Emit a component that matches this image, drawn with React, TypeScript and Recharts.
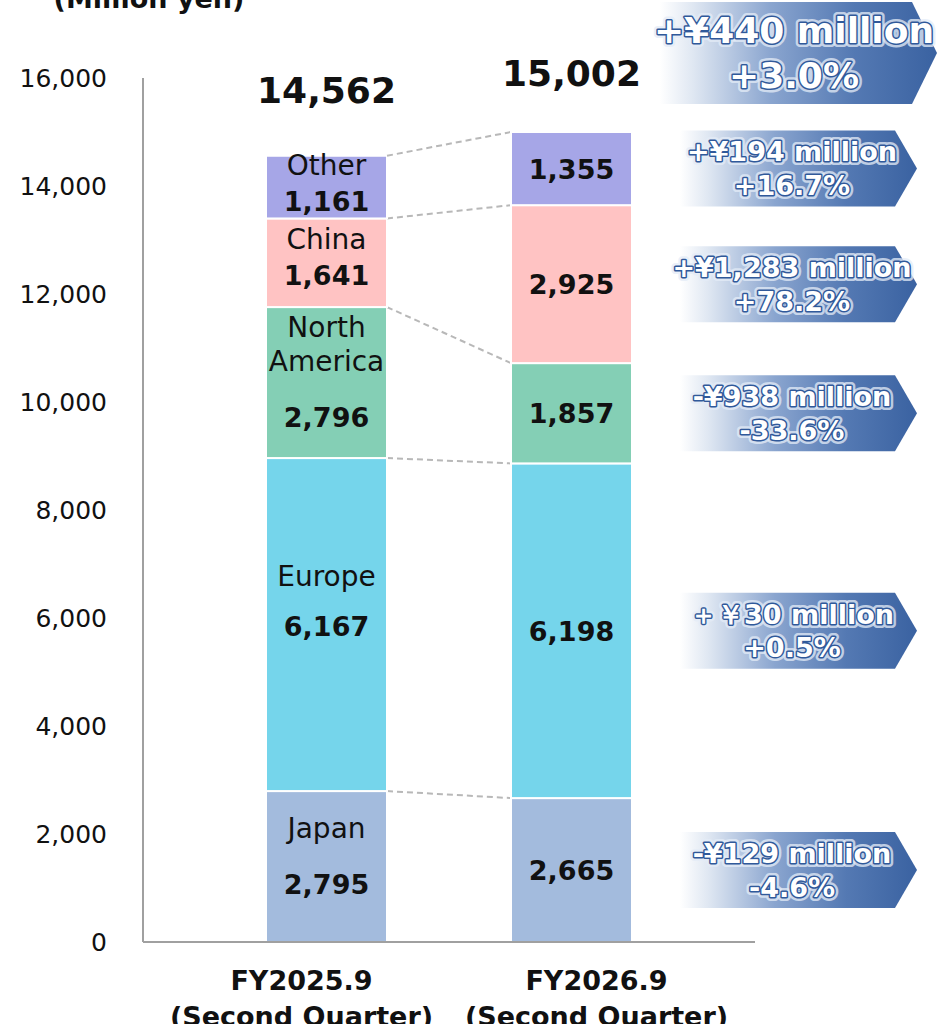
import { BarChart, Bar, XAxis, YAxis, LabelList } from "recharts";

const categories = ["FY2025.9", "FY2026.9"];
const periodNote = "(Second Quarter)";
const regions = ["Japan", "Europe", "North America", "China", "Other"];
const japan = [2795, 2665];
const europe = [6167, 6198];
const northAmerica = [2796, 1857];
const china = [1641, 2925];
const other = [1161, 1355];
const totals = ["14,562", "15,002"];
const changeAmounts = ["-¥129 million", "＋￥30 million", "-¥938 million", "+¥1,283 million", "+¥194 million"];
const changeRates = ["-4.6%", "+0.5%", "-33.6%", "+78.2%", "+16.7%"];
const totalChange = "+¥440 million";
const totalRate = "+3.0%";
const yTicks = [0, 2000, 4000, 6000, 8000, 10000, 12000, 14000, 16000];

const seriesValues = [japan, europe, northAmerica, china, other];
const colors = ["#a3bbdd", "#75d5eb", "#84cfb5", "#ffc3c3", "#a6a6e7"];

const data = categories.map((name, i) => {
  const row: any = { name };
  regions.forEach((r, s) => (row[r] = seriesValues[s][i]));
  return row;
});

const FONT = "'DejaVu Sans', Verdana, sans-serif";
const W = 937;
const H = 1024;
const margin = { top: 78, right: 182, left: 0, bottom: 0 };
const yAxisWidth = 143;
const xPad = 61;
const barSize = 121;
const bandWidth = (W - margin.left - margin.right - yAxisWidth - 2 * xPad) / categories.length;

const cumTop = (s: number, i: number) =>
  seriesValues.slice(0, s + 1).reduce((a, v) => a + v[i], 0);

// arrow-shaped change box with a white-to-blue gradient
const ChangeBox = ({ x, cy, w, h, tip, size, lines, tx }: any) => {
  const top = cy - h / 2;
  const bottom = cy + h / 2;
  const d = `M${x},${top} L${x + w},${top} L${x + w + tip},${cy} L${x + w},${bottom} L${x},${bottom} Z`;
  const lineGap = size * 1.25;
  return (
    <g>
      <path d={d} fill="url(#boxGrad)" />
      {lines.map((t: string, k: number) => {
        const by = cy - lineGap / 2 + k * lineGap + size * 0.36;
        return (
          <g key={k}>
            <text x={tx} y={by} textAnchor="middle" fontFamily={FONT} fontWeight="bold" fontSize={size}
              fill="none" stroke="#e4ecf7" strokeOpacity={0.75} strokeWidth={8} strokeLinejoin="round">{t}</text>
            <text x={tx} y={by} textAnchor="middle" fontFamily={FONT} fontWeight="bold" fontSize={size}
              fill="#ffffff" stroke="#30599a" strokeWidth={3} strokeLinejoin="round" paintOrder="stroke">{t}</text>
          </g>
        );
      })}
    </g>
  );
};

const Segment = (s: number) => (props: any) => {
  const { x, y, width, height, index } = props;
  const line = [];
  if (index === 0 && height > 0) {
    const per = height / seriesValues[s][0];
    const y2 = y + (cumTop(s, 0) - cumTop(s, 1)) * per;
    line.push(
      <line key="c" x1={x + width} y1={y} x2={x + bandWidth} y2={y2}
        stroke="#b8b8b8" strokeWidth={2} strokeDasharray="6 4" />
    );
  }
  return (
    <g>
      <rect x={x} y={y} width={width} height={height} fill={colors[s]} stroke="#ffffff" strokeWidth={2} />
      {line}
    </g>
  );
};

const segmentLabel = (s: number) => (props: any) => {
  const { x, y, width, height, index, value } = props;
  const cx = x + width / 2;
  const cy = y + height / 2;
  const valText = Number(value).toLocaleString("en-US");
  if (index === 0) {
    const names = regions[s].split(" ");
    const gap = height > 300 ? 50 : height > 120 ? 56 : 36;
    const total = (names.length - 1) * 34 + gap;
    const first = cy - Math.min(height * 0.07, 24) - total / 2;
    return (
      <g>
        {names.map((n, k) => (
          <text key={k} x={cx} y={first + k * 34 + 10} textAnchor="middle" fontFamily={FONT}
            fontSize={28} fill="#111">{n}</text>
        ))}
        <text x={cx} y={first + (names.length - 1) * 34 + gap + 10} textAnchor="middle" fontFamily={FONT}
          fontWeight="bold" fontSize={27} fill="#111">{valText}</text>
      </g>
    );
  }
  const bx = x + width + 48;
  return (
    <g>
      <text x={cx} y={cy + 10} textAnchor="middle" fontFamily={FONT} fontWeight="bold" fontSize={27} fill="#111">
        {valText}
      </text>
      <ChangeBox x={bx} cy={cy} w={215} h={76} tip={22} size={27} tx={bx + 112}
        lines={[changeAmounts[s], changeRates[s]]} />
    </g>
  );
};

const totalLabel = (props: any) => {
  const { x, y, width, index } = props;
  const cx = x + width / 2;
  const bx = x + width + 28;
  return (
    <g>
      <text x={cx} y={y - (index === 0 ? 53 : 46)} textAnchor="middle" fontFamily={FONT} fontWeight="bold"
        fontSize={36} fill="#111">
        {totals[index]}
      </text>
      {index === 1 && (
        <ChangeBox x={bx} cy={y - 79} w={252} h={102} tip={25} size={36} tx={bx + 134}
          lines={[totalChange, totalRate]} />
      )}
    </g>
  );
};

const YTick = (props: any) => (
  <text x={props.x} y={props.y} dy="0.36em" textAnchor="end" fontFamily={FONT} fontSize={25} fill="#111">
    {Number(props.payload.value).toLocaleString("en-US")}
  </text>
);

const XTick = (props: any) => {
  const shift = props.index === 0 ? -25 : 25;
  return (
    <g>
      <text x={props.x + shift} y={props.y + 40} textAnchor="middle" fontFamily={FONT} fontWeight="bold" fontSize={27} fill="#111">
        {props.payload.value}
      </text>
      <text x={props.x + shift} y={props.y + 76} textAnchor="middle" fontFamily={FONT} fontWeight="bold" fontSize={27} fill="#111">
        {periodNote}
      </text>
    </g>
  );
};

export default function App() {
  return (
    <div style={{ position: "absolute", left: 0, top: 0, width: W, height: H, background: "#fff" }}>
      <BarChart width={W} height={H} data={data} margin={margin}>
        <defs>
          <linearGradient id="boxGrad" x1="0" y1="0" x2="1" y2="0">
            <stop offset="0%" stopColor="#ffffff" />
            <stop offset="12%" stopColor="#dfe7f2" />
            <stop offset="40%" stopColor="#8aa5cf" />
            <stop offset="70%" stopColor="#5479b3" />
            <stop offset="100%" stopColor="#3a62a1" />
          </linearGradient>
        </defs>
        <text x={149} y={8} textAnchor="middle" fontFamily={FONT} fontWeight="bold" fontSize={27} fill="#111">
          (Million yen)
        </text>
        <XAxis dataKey="name" padding={{ left: xPad, right: xPad }} axisLine={{ stroke: "#a0a0a0", strokeWidth: 2 }}
          tickLine={false} height={82} tick={<XTick />} interval={0} />
        <YAxis domain={[0, 16000]} ticks={yTicks} width={yAxisWidth} axisLine={{ stroke: "#a0a0a0", strokeWidth: 2 }}
          tickLine={false} tickSize={0} tickMargin={36} tick={<YTick />} interval={0} />
        {regions.map((r, s) => (
          <Bar key={r} dataKey={r} stackId="a" barSize={barSize} fill={colors[s]} shape={Segment(s)}
            isAnimationActive={false}>
            <LabelList dataKey={r} content={segmentLabel(s)} />
            {s === regions.length - 1 && <LabelList dataKey={r} content={totalLabel} />}
          </Bar>
        ))}
      </BarChart>
    </div>
  );
}
